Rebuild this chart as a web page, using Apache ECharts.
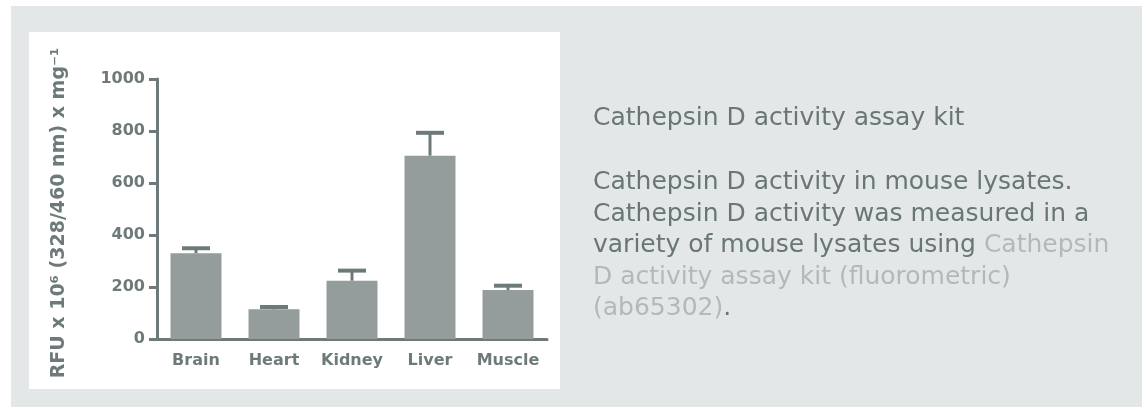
<!DOCTYPE html>
<html>
<head>
<meta charset="utf-8">
<script src="https://cdn.jsdelivr.net/npm/echarts@6/dist/echarts.min.js"></script>
<style>
  body { margin: 0; background: #fff; }
  #panel { position: absolute; left: 11px; top: 6px; width: 1131px; height: 401px; background: #e3e7e8; }
  #box { position: absolute; left: 29px; top: 32px; width: 531px; height: 357px; background: #fff; }
  #main { position: absolute; left: 0; top: 0; width: 1144px; height: 407px; }
  .txt { position: absolute; left: 593px; font-family: 'DejaVu Sans'; font-size: 25px; color: #6a7676; white-space: nowrap; }
  #title { top: 101px; line-height: 32px; }
  #body { top: 165px; line-height: 31.5px; }
  .lnk { color: #b3b9ba; }
</style>
</head>
<body>
<div id="panel"></div>
<div id="box"></div>
<div id="main"></div>
<div class="txt" id="title">Cathepsin D activity assay kit</div>
<div class="txt" id="body">Cathepsin D activity in mouse lysates.<br>Cathepsin D activity was measured in a<br>variety of mouse lysates using <span class="lnk">Cathepsin</span><br><span class="lnk">D activity assay kit (fluorometric)</span><br><span class="lnk">(ab65302)</span>.</div>
<script>
const tissues = ['Brain', 'Heart', 'Kidney', 'Liver', 'Muscle']
const activity = [330, 114, 224, 705, 188]
const errorTop = [349, 123, 263, 793, 205]
const yTicks = [0, 200, 400, 600, 800, 1000]

const axisColor = '#6e7a7a'
const barColor = '#949c9c'
const labelFont = { fontFamily: 'DejaVu Sans', fontWeight: 'bold', fontSize: 16, color: axisColor }

const myChart = echarts.init(document.getElementById('main'))

myChart.setOption({
  animation: false,
  grid: { left: 157, top: 79, width: 390, height: 260, containLabel: false, outerBoundsMode: 'none' },
  xAxis: {
    type: 'category',
    data: tissues,
    axisLine: { lineStyle: { color: axisColor, width: 3 } },
    axisTick: { alignWithLabel: true, length: 8, lineStyle: { color: axisColor, width: 3 } },
    axisLabel: Object.assign({ margin: 14, interval: 0 }, labelFont)
  },
  yAxis: {
    type: 'value',
    min: yTicks[0],
    max: yTicks[yTicks.length - 1],
    interval: 200,
    name: 'RFU x 10⁶ (328/460 nm) x mg⁻¹',
    nameLocation: 'middle',
    nameRotate: 90,
    nameGap: 88,
    nameTextStyle: { fontFamily: 'DejaVu Sans', fontWeight: 'bold', fontSize: 19, color: axisColor, padding: [0, 8, 0, 0] },
    axisLine: { show: true, lineStyle: { color: axisColor, width: 3 } },
    axisTick: { show: true, length: 8, lineStyle: { color: axisColor, width: 3 } },
    splitLine: { show: false },
    axisLabel: Object.assign({ margin: 12, formatter: v => String(v) }, labelFont)
  },
  series: [
    {
      type: 'bar',
      data: activity,
      barWidth: 51,
      itemStyle: { color: barColor }
    },
    {
      // error bars: stem from mean up to mean+SEM and a cap
      type: 'custom',
      data: activity.map((v, i) => [i, v, errorTop[i]]),
      z: 3,
      renderItem: function (params, api) {
        const base = api.coord([api.value(0), api.value(1)])
        const top = api.coord([api.value(0), api.value(2)])
        const half = 14
        return {
          type: 'group',
          children: [
            { type: 'line', shape: { x1: base[0], y1: base[1], x2: top[0], y2: top[1] }, style: { stroke: axisColor, lineWidth: 3 } },
            { type: 'line', shape: { x1: top[0] - half, y1: top[1], x2: top[0] + half, y2: top[1] }, style: { stroke: axisColor, lineWidth: 4 } }
          ]
        }
      }
    }
  ]
})
</script>
</body>
</html>
